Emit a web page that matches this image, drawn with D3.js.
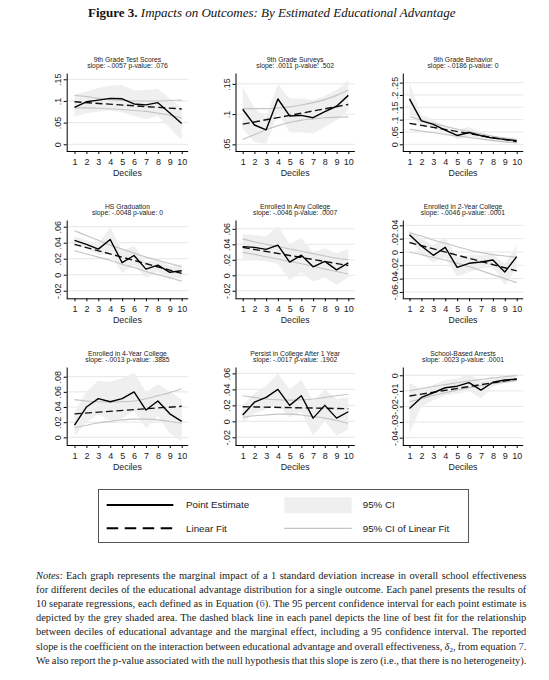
<!DOCTYPE html>
<html><head><meta charset="utf-8">
<script src="https://cdn.jsdelivr.net/npm/d3@7"></script>
<style>
body{margin:0;background:#fff;}
svg{display:block;}
</style></head><body>
<svg id="c" width="549" height="680"></svg>
<script>
// ---------------- DATA ----------------
const figureTitle = ["Figure 3.", "Impacts on Outcomes: By Estimated Educational Advantage"];
const deciles = [1,2,3,4,5,6,7,8,9,10];
const xAxisTitle = "Deciles";
const panelTitles = ["9th Grade Test Scores","9th Grade Surveys","9th Grade Behavior",
  "HS Graduation","Enrolled in Any College","Enrolled in 2-Year College",
  "Enrolled in 4-Year College","Persist in College After 1 Year","School-Based Arrests"];
const slopeTexts = ["slope: -.0057 p-value: .076","slope: .0011 p-value: .502","slope: -.0186 p-value: 0",
  "slope: -.0048 p-value: 0","slope: -.0046 p-value: .0007","slope: -.0046 p-value: .0001",
  "slope: -.0013 p-value: .3885","slope: -.0017 p-value: .1902","slope: .0023 p-value: .0001"];
const yTickValues = [[0,.05,.1,.15],[.05,.1,.15],[0,.05,.1,.15,.2,.25],
  [-.02,0,.02,.04,.06],[-.02,0,.02,.04,.06],[-.06,-.04,-.02,0,.02,.04],
  [0,.02,.04,.06,.08],[-.02,0,.02,.04,.06],[-.04,-.03,-.02,-.01,0]];
const yTickLabels = [["0",".05",".1",".15"],[".05",".1",".15"],["0",".05",".1",".15",".2",".25"],
  ["-.02","0",".02",".04",".06"],["-.02","0",".02",".04",".06"],["-.06","-.04","-.02","0",".02",".04"],
  ["0",".02",".04",".06",".08"],["-.02","0",".02",".04",".06"],["-.04","-.03","-.02","-.01","0"]];
const yDomains = [[-0.0155,0.1645],[0.039,0.168],[-0.027,0.289],
  [-0.0295,0.0684],[-0.0297,0.0714],[-0.0695,0.048],
  [-0.0101,0.0928],[-0.0296,0.068],[-0.0447,0.0053]];
const pointEst = [
  [0.085,0.098,0.102,0.106,0.105,0.093,0.091,0.096,0.072,0.048],
  [0.108,0.082,0.074,0.125,0.097,0.098,0.094,0.104,0.113,0.131],
  [0.184,0.095,0.081,0.058,0.036,0.048,0.035,0.025,0.020,0.015],
  [0.043,0.038,0.032,0.044,0.015,0.024,0.007,0.012,0.003,0.005],
  [0.037,0.036,0.0335,0.039,0.017,0.026,0.011,0.018,0.007,0.016],
  [0.026,0.009,-0.005,0.007,-0.023,-0.017,-0.015,-0.012,-0.030,-0.007],
  [0.016,0.040,0.051,0.047,0.051,0.060,0.036,0.048,0.031,0.021],
  [0.008,0.024,0.030,0.040,0.020,0.032,0.004,0.020,0.004,0.012],
  [-0.0213,-0.0142,-0.0112,-0.008,-0.007,-0.0047,-0.0095,-0.0045,-0.003,-0.0026]];
const ciUpper = [
  [0.115,0.122,0.13,0.135,0.137,0.124,0.125,0.128,0.105,0.085],
  [0.145,0.11,0.095,0.149,0.126,0.126,0.123,0.13,0.14,0.156],
  [0.25,0.12,0.1,0.075,0.06,0.07,0.05,0.035,0.03,0.025],
  [0.048,0.043,0.038,0.06,0.03,0.036,0.016,0.02,0.011,0.013],
  [0.053,0.052,0.05,0.064,0.04,0.048,0.03,0.035,0.028,0.034],
  [0.033,0.02,0.01,0.022,-0.008,-0.005,-0.005,-0.004,-0.018,0.01],
  [0.033,0.06,0.075,0.073,0.078,0.085,0.06,0.07,0.06,0.05],
  [0.02,0.035,0.045,0.06,0.04,0.052,0.025,0.04,0.028,0.03],
  [-0.005,-0.009,-0.006,-0.003,-0.002,0.001,-0.004,-0.002,-0.001,-0.001]];
const ciLower = [
  [0.064,0.072,0.075,0.078,0.074,0.065,0.058,0.065,0.038,0.01],
  [0.076,0.054,0.051,0.101,0.07,0.07,0.068,0.079,0.09,0.107],
  [0.12,0.075,0.065,0.045,0.02,0.033,0.022,0.015,0.01,0.005],
  [0.036,0.033,0.025,0.026,0.002,0.012,-0.004,0.004,-0.005,-0.004],
  [0.02,0.02,0.018,0.015,-0.006,0.004,-0.008,-0.003,-0.012,-0.003],
  [0.018,-0.003,-0.016,-0.008,-0.037,-0.03,-0.025,-0.022,-0.05,-0.024],
  [0.002,0.02,0.03,0.022,0.025,0.035,0.012,0.028,0.005,-0.005],
  [-0.002,0.01,0.015,0.02,0.005,0.012,-0.018,0.0,-0.018,-0.01],
  [-0.037,-0.02,-0.016,-0.013,-0.012,-0.01,-0.015,-0.007,-0.005,-0.004]];
const fitEnds = [[0.098,0.0815],[0.0834,0.116],[0.085,0.011],
  [0.038,0.0017],[0.036,0.0126],[0.0142,-0.0284],
  [0.031,0.041],[0.0183,0.0158],[-0.0133,-0.0024]];
const fitCiUpper = [
  [0.113,0.110,0.106,0.103,0.101,0.100,0.100,0.100,0.101,0.102],
  [0.109,0.109,0.109,0.110,0.112,0.115,0.119,0.124,0.131,0.140],
  [0.112,0.098,0.085,0.073,0.062,0.052,0.042,0.033,0.025,0.018],
  [0.055,0.049,0.043,0.037,0.032,0.027,0.022,0.018,0.014,0.010],
  [0.047,0.043,0.040,0.037,0.034,0.031,0.028,0.025,0.022,0.020],
  [0.029,0.024,0.018,0.013,0.008,0.003,-0.001,-0.004,-0.006,-0.008],
  [0.0498,0.048,0.047,0.0467,0.047,0.048,0.051,0.055,0.059,0.064],
  [0.032,0.030,0.028,0.027,0.0265,0.027,0.028,0.030,0.032,0.034],
  [-0.0099,-0.0085,-0.0072,-0.006,-0.0048,-0.0037,-0.0027,-0.0017,-0.0009,-0.0002]];
const fitCiLower = [
  [0.084,0.084,0.083,0.082,0.080,0.078,0.076,0.072,0.067,0.061],
  [0.058,0.066,0.074,0.081,0.086,0.090,0.092,0.094,0.095,0.0955],
  [0.061,0.054,0.047,0.040,0.034,0.028,0.021,0.015,0.010,0.006],
  [0.030,0.026,0.022,0.018,0.013,0.009,0.004,0.000,-0.004,-0.008],
  [0.0296,0.027,0.024,0.021,0.018,0.015,0.012,0.008,0.005,0.0017],
  [-0.0005,-0.004,-0.008,-0.012,-0.017,-0.022,-0.028,-0.034,-0.040,-0.046],
  [0.0129,0.016,0.019,0.021,0.023,0.024,0.024,0.023,0.021,0.0187],
  [0.005,0.007,0.008,0.009,0.009,0.008,0.006,0.004,0.001,-0.0025],
  [-0.017,-0.015,-0.013,-0.0112,-0.0095,-0.008,-0.0066,-0.0054,-0.0044,-0.0034]];
const legendLabels = ["Point Estimate","95% CI","Linear Fit","95% CI of Linear Fit"];
const notesLines = [
  [["Notes","i"],[": Each graph represents the marginal impact of a 1 standard deviation increase in overall school effectiveness"]],
  [["for different deciles of the educational advantage distribution for a single outcome. Each panel presents the results of"]],
  [["10 separate regressions, each defined as in Equation ("],["6","b"],["). The 95 percent confidence interval for each point estimate is"]],
  [["depicted by the grey shaded area. The dashed black line in each panel depicts the line of best fit for the relationship"]],
  [["between deciles of educational advantage and the marginal effect, including a 95 confidence interval. The reported"]],
  [["slope is the coefficient on the interaction between educational advantage and overall effectiveness, "],["δ","i"],["2","s"],[", from equation "],["7","b"],["."]],
  [["We also report the p-value associated with the null hypothesis that this slope is zero (i.e., that there is no heterogeneity)."]]
];

// ---------------- DRAW ----------------
const svg = d3.select("#c");
const sans = '"Liberation Sans", Arial, Helvetica, sans-serif';
const serif = '"Liberation Serif", "Times New Roman", Times, serif';

const title = svg.append("text").attr("x", 271.7).attr("y", 16.5).attr("text-anchor","middle")
  .style("font-family", serif).style("font-size","13px").attr("fill","#111");
title.append("tspan").style("font-weight","bold").text(figureTitle[0]);
title.append("tspan").style("font-style","italic").text(" " + figureTitle[1]);

const colAxisX = [66.7, 235.5, 402.8], colX1 = [74.5, 242.7, 409.5], colX10 = [181.7, 348.3, 516.7];
const rowTop = [73, 220, 367], rowBottom = [151, 298.3, 445];

panelTitles.forEach((t, i) => {
  const c = i % 3, r = Math.floor(i / 3);
  const left = colAxisX[c], right = colX10[c] + 6.5, top = rowTop[r], bottom = rowBottom[r];
  const x = d3.scaleLinear().domain([1, 10]).range([colX1[c], colX10[c]]);
  const y = d3.scaleLinear().domain(yDomains[i]).range([bottom, top]);
  const g = svg.append("g");

  g.selectAll("line.grid").data(yTickValues[i]).join("line").attr("class","grid")
    .attr("x1", left).attr("x2", right).attr("y1", d => y(d)).attr("y2", d => y(d))
    .attr("stroke", "#e6e6e6").attr("stroke-width", 1);

  const area = d3.area().x((d, j) => x(deciles[j])).y0((d, j) => y(ciLower[i][j])).y1(d => y(d));
  g.append("path").datum(ciUpper[i]).attr("d", area).attr("fill", "#efefef");

  const curveLine = d3.line().x((d, j) => x(deciles[j])).y(d => y(d)).curve(d3.curveMonotoneX);
  [fitCiUpper[i], fitCiLower[i]].forEach(s => {
    g.append("path").datum(s).attr("d", curveLine).attr("fill","none").attr("stroke","#c4c4c4").attr("stroke-width",1.1);
  });

  const fitLine = d3.line().x((d, j) => x(j === 0 ? deciles[0] : deciles[deciles.length - 1])).y(d => y(d));
  g.append("path").datum(fitEnds[i]).attr("d", fitLine).attr("fill","none").attr("stroke","#111")
    .attr("stroke-width",1.4).attr("stroke-dasharray","7,3.5");

  const estLine = d3.line().x((d, j) => x(deciles[j])).y(d => y(d));
  g.append("path").datum(pointEst[i]).attr("d", estLine).attr("fill","none").attr("stroke","#000")
    .attr("stroke-width",1.4).attr("stroke-linejoin","round");

  // x axis
  const ax = g.append("g").attr("transform", `translate(0,${bottom})`)
    .call(d3.axisBottom(x).tickValues(deciles).tickSize(3).tickPadding(4.4).tickSizeOuter(0));
  ax.select(".domain").remove();
  ax.append("line").attr("x1", left).attr("x2", right).attr("y1",0.5).attr("y2",0.5).attr("stroke","#000");
  ax.attr("font-family", sans).attr("font-size", 9).attr("color","#000");
  ax.selectAll("text").attr("fill","#222");

  // y axis
  const ay = g.append("g").attr("transform", `translate(${left},0)`)
    .call(d3.axisLeft(y).tickValues(yTickValues[i]).tickFormat((d, j) => yTickLabels[i][j]).tickSize(3).tickSizeOuter(0));
  ay.attr("font-family", sans).attr("font-size", 9).attr("color","#000");
  ay.selectAll(".tick text").attr("x", 0).attr("y", -5.3).attr("dy", null)
    .attr("transform","rotate(-90)").attr("text-anchor","middle").attr("fill","#222");

  const cx = (left + right) / 2;
  g.append("text").attr("x", cx).attr("y", bottom + 24.5).attr("text-anchor","middle")
    .style("font-family", sans).style("font-size","8.8px").attr("fill","#222").text(xAxisTitle);
  g.append("text").attr("x", cx).attr("y", top - 11.5).attr("text-anchor","middle")
    .style("font-family", sans).style("font-size","6.8px").attr("fill","#222").text(t);
  g.append("text").attr("x", cx).attr("y", top - 5).attr("text-anchor","middle")
    .style("font-family", sans).style("font-size","6.8px").attr("fill","#222").text(slopeTexts[i]);
});

// legend
const lg = svg.append("g");
lg.append("rect").attr("x",98.5).attr("y",489.5).attr("width",370).attr("height",53)
  .attr("fill","#fff").attr("stroke","#555").attr("stroke-width",1);
const r1 = 505, r2 = 528.3;
lg.append("line").attr("x1",106.7).attr("x2",173.3).attr("y1",r1).attr("y2",r1).attr("stroke","#000").attr("stroke-width",2);
lg.append("line").attr("x1",106.7).attr("x2",173.3).attr("y1",r2).attr("y2",r2).attr("stroke","#000").attr("stroke-width",2).attr("stroke-dasharray","11.5,6.5");
lg.append("rect").attr("x",284.3).attr("y",497.3).attr("width",67.4).attr("height",16).attr("fill","#efefef");
lg.append("line").attr("x1",284.3).attr("x2",351.7).attr("y1",r2).attr("y2",r2).attr("stroke","#c4c4c4").attr("stroke-width",1.2);
[[186, r1, 0],[362.7, r1, 1],[186, r2, 2],[362.7, r2, 3]].forEach(p => {
  lg.append("text").attr("x",p[0]).attr("y",p[1]+3.4).style("font-family",sans).style("font-size","9.8px")
    .attr("fill","#222").text(legendLabels[p[2]]);
});

// notes
const nx0 = 36, nx1 = 526.3, ny0 = 578.5, ndy = 14.2;
notesLines.forEach((segs, k) => {
  const t = svg.append("text").attr("x", nx0).attr("y", ny0 + k * ndy)
    .style("font-family", serif).style("font-size","10.4px").attr("fill","#1a1a1a");
  segs.forEach(s => {
    const ts = t.append("tspan").text(s[0]);
    if (s[1] === "i") ts.style("font-style","italic");
    if (s[1] === "b") ts.attr("fill","#3a4fa8");
    if (s[1] === "s") { ts.attr("dy", 2.2).style("font-size","7px"); }
    if (s[1] !== "s" && k === 5 && s[0].startsWith(",")) ts.attr("dy", -2.2);
  });
  const full = segs.map(s => s[0]).join("");
  const spaces = (full.match(/ /g) || []).length;
  const nat = t.node().getComputedTextLength();
  if (spaces > 0) t.style("word-spacing", ((nx1 - nx0 - nat) / spaces) + "px");
});
</script>
</body></html>
